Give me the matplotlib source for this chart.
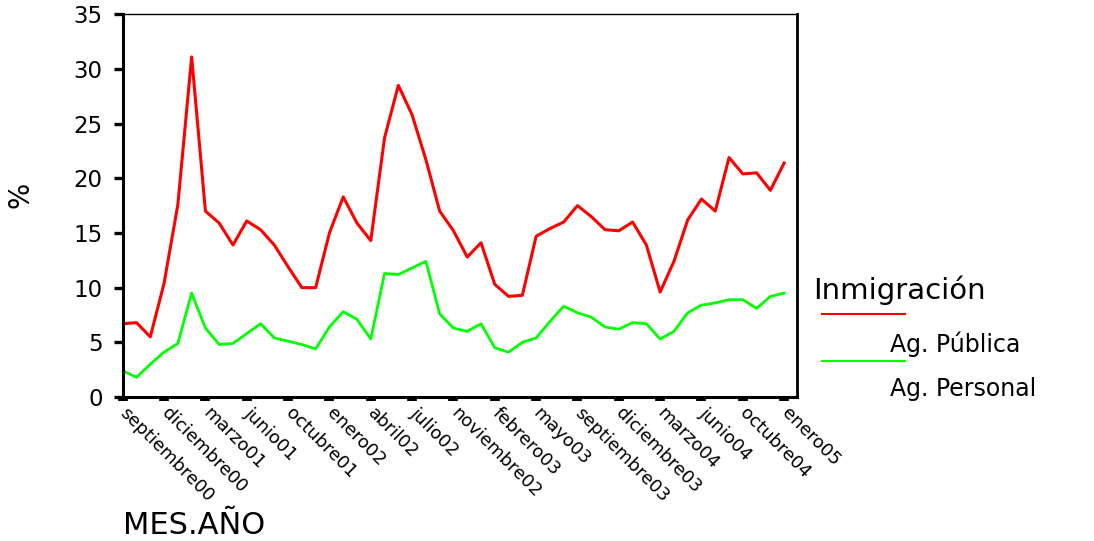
import matplotlib
matplotlib.use('Agg')
import matplotlib.pyplot as plt
from matplotlib.lines import Line2D

# months sep 2000 - jan 2005 (no august in the series)
meses = ['septiembre00', 'octubre00', 'noviembre00', 'diciembre00',
         'enero01', 'febrero01', 'marzo01', 'abril01', 'mayo01', 'junio01', 'julio01',
         'septiembre01', 'octubre01', 'noviembre01', 'diciembre01',
         'enero02', 'febrero02', 'marzo02', 'abril02', 'mayo02', 'junio02', 'julio02',
         'septiembre02', 'octubre02', 'noviembre02', 'diciembre02',
         'enero03', 'febrero03', 'marzo03', 'abril03', 'mayo03', 'junio03', 'julio03',
         'septiembre03', 'octubre03', 'noviembre03', 'diciembre03',
         'enero04', 'febrero04', 'marzo04', 'abril04', 'mayo04', 'junio04', 'julio04',
         'septiembre04', 'octubre04', 'noviembre04', 'diciembre04',
         'enero05']

ag_publica = [6.7, 6.8, 5.5, 10.4, 17.6, 31.1, 17.0, 15.9, 13.9, 16.1,
              15.3, 13.9, 11.9, 10.0, 10.0, 15.0, 18.3, 15.9, 14.3, 23.7,
              28.5, 25.8, 21.7, 17.0, 15.2, 12.8, 14.1, 10.3, 9.2, 9.3,
              14.7, 15.4, 16.0, 17.5, 16.5, 15.3, 15.2, 16.0, 13.9, 9.6,
              12.4, 16.2, 18.1, 17.0, 21.9, 20.4, 20.5, 18.9, 21.4]

ag_personal = [2.4, 1.8, 3.0, 4.1, 4.9, 9.5, 6.3, 4.8, 4.9, 5.8,
               6.7, 5.4, 5.1, 4.8, 4.4, 6.4, 7.8, 7.1, 5.3, 11.3,
               11.2, 11.8, 12.4, 7.6, 6.3, 6.0, 6.7, 4.5, 4.1, 5.0,
               5.4, 6.9, 8.3, 7.7, 7.3, 6.4, 6.2, 6.8, 6.7, 5.3,
               6.0, 7.7, 8.4, 8.6, 8.9, 8.9, 8.1, 9.2, 9.5]

yticks = [0, 5, 10, 15, 20, 25, 30, 35]

plt.rcParams['font.family'] = ['DejaVu Sans']

fig = plt.figure(figsize=(10.94, 5.41), dpi=100)
ax = fig.add_axes([0.1122, 0.2662, 0.6163, 0.7074])

x = list(range(len(meses)))
ax.plot(x, ag_publica, color='#ff0000', lw=2.2)
ax.plot(x, ag_personal, color='#00ff00', lw=2.0)

ax.set_xlim(0, 48.93)
ax.set_ylim(0, 35)

ax.set_yticks(yticks)
ax.set_yticklabels([str(v) for v in yticks], fontsize=16.5)
ax.tick_params(axis='y', direction='out', length=6.5, width=2.4, pad=8)

tick_idx = x[::3]
ax.set_xticks(tick_idx)
ax.set_xticklabels([meses[i] for i in tick_idx], rotation=-45, ha='left', va='center',
                   rotation_mode='anchor', fontsize=13)
ax.tick_params(axis='x', direction='out', length=3, width=7, pad=7)

ax.spines['left'].set_linewidth(2.2)
ax.spines['bottom'].set_linewidth(2.2)
ax.spines['right'].set_linewidth(2.0)
ax.spines['top'].set_linewidth(1.0)

ax.set_xlabel('MES.AÑO', fontsize=22, loc='left')
ax.xaxis.label.set_va('center')
ax.xaxis.set_label_coords(0.0, -0.335)

ax.set_ylabel('%', fontsize=20)
ax.yaxis.label.set_va('center')
ax.yaxis.set_label_coords(-0.152, 0.528)

# legend, SPSS style: title, line, then label below and to the right
W, H = 1094.0, 541.0
fig.text(813 / W, 1 - 290 / H, 'Inmigración', fontsize=21, ha='left', va='center')
fig.add_artist(Line2D([822 / W, 905 / W], [1 - 314 / H, 1 - 314 / H], color='#ff0000', lw=1.5))
fig.text(890 / W, 1 - 344 / H, 'Ag. Pública', fontsize=17, ha='left', va='center')
fig.add_artist(Line2D([822 / W, 905 / W], [1 - 361 / H, 1 - 361 / H], color='#00ff00', lw=1.5))
fig.text(890 / W, 1 - 389 / H, 'Ag. Personal', fontsize=17, ha='left', va='center')

plt.savefig('out.png', dpi=100)
plt.close()
